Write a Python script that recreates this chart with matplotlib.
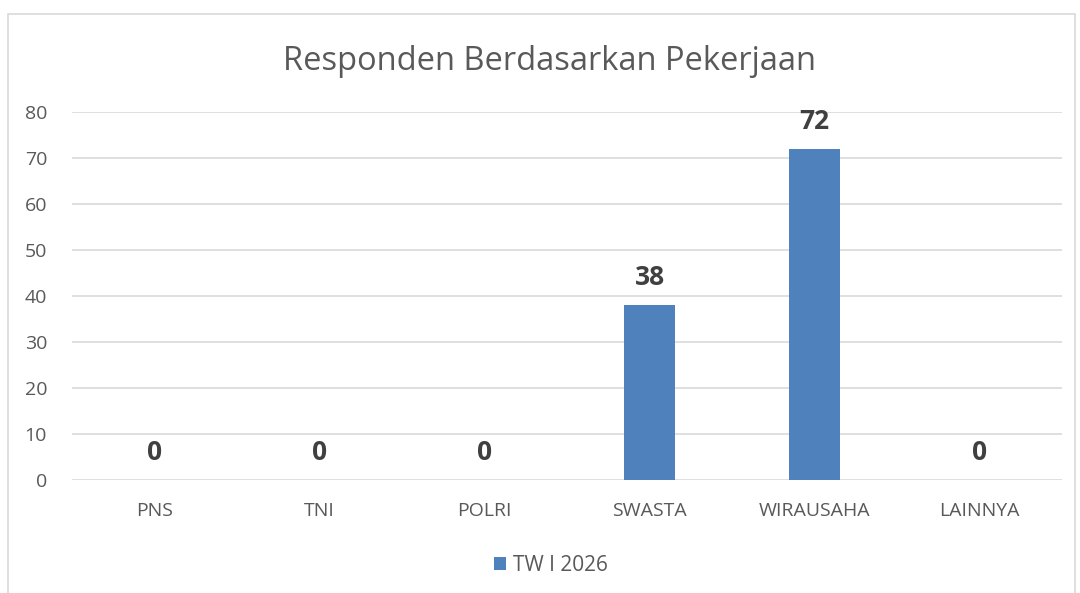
import matplotlib.pyplot as plt
from matplotlib.patches import Rectangle
import numpy as np

plt.rcParams['font.family'] = ['Open Sans', 'DejaVu Sans']

pekerjaan = ["PNS", "TNI", "POLRI", "SWASTA", "WIRAUSAHA", "LAINNYA"]
jumlah = [0, 0, 0, 38, 72, 0]
seri = "TW I 2026"

fig = plt.figure(figsize=(10.8, 5.93), dpi=100)
ax = fig.add_axes([72/1080, 0.1906, 990/1080, 0.6206])

x = np.arange(len(pekerjaan))
bars = ax.bar(x, jumlah, width=0.315, color="#4F81BD", label=seri, zorder=3)

for xi, v in zip(x, jumlah):
    ax.text(xi, v + 3, str(v), ha="center", va="bottom", fontsize=19,
            fontweight="bold", color="#404040")

ax.set_xlim(-0.5, len(pekerjaan) - 0.5)
ax.set_ylim(0, 80)
ax.set_yticks(range(0, 81, 10))
ax.set_xticks(x)
ax.set_xticklabels(pekerjaan)
ax.yaxis.grid(True, color="#D9D9D9", linewidth=1.2, zorder=0)
for s in ax.spines.values():
    s.set_visible(False)
ax.tick_params(length=0, labelsize=14, colors="#595959")
ax.tick_params(axis="x", pad=16)
ax.tick_params(axis="y", pad=18)

fig.text(0.509, 0.897, "Responden Berdasarkan Pekerjaan", ha="center", va="center",
         fontsize=23.5, color="#595959")

fig.legend(loc="center", bbox_to_anchor=(0.51, 0.047), frameon=False,
           fontsize=15, labelcolor="#595959", handlelength=0.6, handleheight=0.6,
           handletextpad=0.3)

fig.patches.append(Rectangle((8/1080, -0.1), 1067/1080, 1.1 - 14/593,
                             transform=fig.transFigure, fill=False,
                             edgecolor="#D9D9D9", linewidth=1.2))

fig.savefig("out.png")
